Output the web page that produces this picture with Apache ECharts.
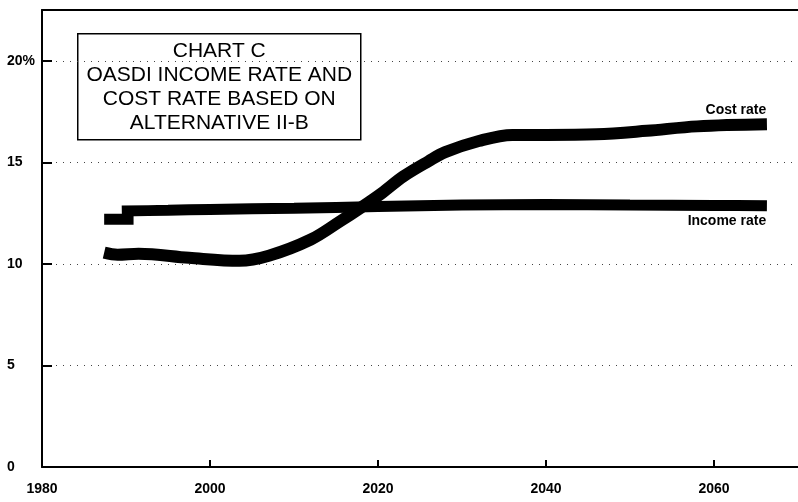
<!DOCTYPE html>
<html>
<head>
<meta charset="utf-8">
<script src="https://cdn.jsdelivr.net/npm/echarts@6/dist/echarts.min.js"></script>
<style>
html,body{margin:0;padding:0;background:#fff;}
#chart{width:798px;height:502px;}
</style>
</head>
<body>
<div id="chart"></div>
<script>
// Data (percent of taxable payroll)
var titleLines = ['CHART C', 'OASDI INCOME RATE AND', 'COST RATE BASED ON', 'ALTERNATIVE II-B'];
var xTickYears = [1980, 2000, 2020, 2040, 2060];
var yTickValues = [0, 5, 10, 15, 20];

var incomeEarlyYears = [1987.4, 1990.9];
var incomeEarlyValues = [12.2, 12.2];

var incomeYears = [1989.5, 1995, 2000, 2010, 2020, 2030, 2040, 2050, 2060, 2066.3];
var incomeValues = [12.6, 12.64, 12.68, 12.74, 12.82, 12.9, 12.92, 12.9, 12.88, 12.86];

var costYears = [1987.4, 1989, 1991.5, 1997.5, 2003.5, 2007, 2012, 2015.5, 2018, 2020.5, 2023, 2026, 2028, 2032, 2036, 2040, 2046, 2052, 2058, 2066.3];
var costValues = [10.55, 10.45, 10.5, 10.3, 10.15, 10.4, 11.2, 12.1, 12.78, 13.5, 14.3, 15.05, 15.5, 16.05, 16.35, 16.35, 16.38, 16.55, 16.77, 16.87];

function pairs(xs, ys) { return xs.map(function (x, i) { return [x, ys[i]]; }); }

var chart = echarts.init(document.getElementById('chart'), null, {renderer: 'canvas'});
var FONT = '"Liberation Sans", Arial, Helvetica, sans-serif';

var lastCost = [costYears[costYears.length - 1], costValues[costValues.length - 1]];
var lastIncome = [incomeYears[incomeYears.length - 1], incomeValues[incomeValues.length - 1]];

var option = {
  backgroundColor: '#fff',
  animation: false,
  grid: {left: 42, right: 0, top: 10, bottom: 35},
  xAxis: [{
    type: 'value', min: 1980, max: 2070, interval: 20,
    axisLine: {show: true, lineStyle: {color: '#000', width: 2}},
    axisTick: {show: true, inside: true, length: 7, lineStyle: {color: '#000', width: 2}},
    axisLabel: {showMaxLabel: false, margin: 15, color: '#000', fontFamily: FONT, fontSize: 14, fontWeight: 'bold',
      formatter: function (v) { return String(v); }},
    splitLine: {show: false}
  }, {
    type: 'value', min: 1980, max: 2070, position: 'top',
    axisLine: {show: true, lineStyle: {color: '#000', width: 2}},
    axisTick: {show: false}, axisLabel: {show: false}, splitLine: {show: false}
  }],
  yAxis: {
    type: 'value', min: 0, max: 22.5, interval: 5,
    axisLine: {show: true, lineStyle: {color: '#000', width: 2}},
    axisTick: {show: true, inside: true, length: 10, lineStyle: {color: '#000', width: 2}},
    axisLabel: {showMaxLabel: false, align: 'left', margin: 35, color: '#000', fontFamily: FONT, fontSize: 14, fontWeight: 'bold',
      formatter: function (v) { return v === 20 ? '20%' : String(v); }},
    splitLine: {show: true, lineStyle: {color: '#444', width: 1, type: [1, 6]}}
  },
  series: [{
    name: 'Income rate (early)', type: 'line', data: pairs(incomeEarlyYears, incomeEarlyValues),
    showSymbol: false, lineStyle: {color: '#000', width: 11, cap: 'butt'}, z: 3
  }, {
    name: 'Income rate', type: 'line', data: pairs(incomeYears, incomeValues),
    showSymbol: false, smooth: 0.3, lineStyle: {color: '#000', width: 11, cap: 'butt'}, z: 3,
    markPoint: {
      symbol: 'circle', symbolSize: 0, silent: true,
      label: {show: true, position: 'inside', offset: [-40, 15], color: '#000', fontFamily: FONT, fontSize: 14, fontWeight: 'bold', formatter: 'Income rate'},
      data: [{coord: lastIncome}]
    }
  }, {
    name: 'Cost rate', type: 'line', data: pairs(costYears, costValues),
    showSymbol: false, smooth: 0.35, lineStyle: {color: '#000', width: 12, cap: 'butt', join: 'round'}, z: 4,
    markPoint: {
      symbol: 'circle', symbolSize: 0, silent: true,
      label: {show: true, position: 'inside', offset: [-31, -14], color: '#000', fontFamily: FONT, fontSize: 14, fontWeight: 'bold', formatter: 'Cost rate'},
      data: [{coord: lastCost}]
    }
  }],
  graphic: [{
    type: 'group', left: 77, top: 33, z: 10,
    children: [{
      type: 'rect', shape: {x: 0, y: 0, width: 283, height: 106},
      style: {fill: '#fff', stroke: '#000', lineWidth: 1.5}
    }].concat(titleLines.map(function (t, i) {
      return {
        type: 'text', x: 141.5, y: 17 + i * 24,
        style: {text: t, fill: '#000', font: '21px ' + FONT, textAlign: 'center', textVerticalAlign: 'middle'}
      };
    }))
  }]
};
chart.setOption(option);
</script>
</body>
</html>
